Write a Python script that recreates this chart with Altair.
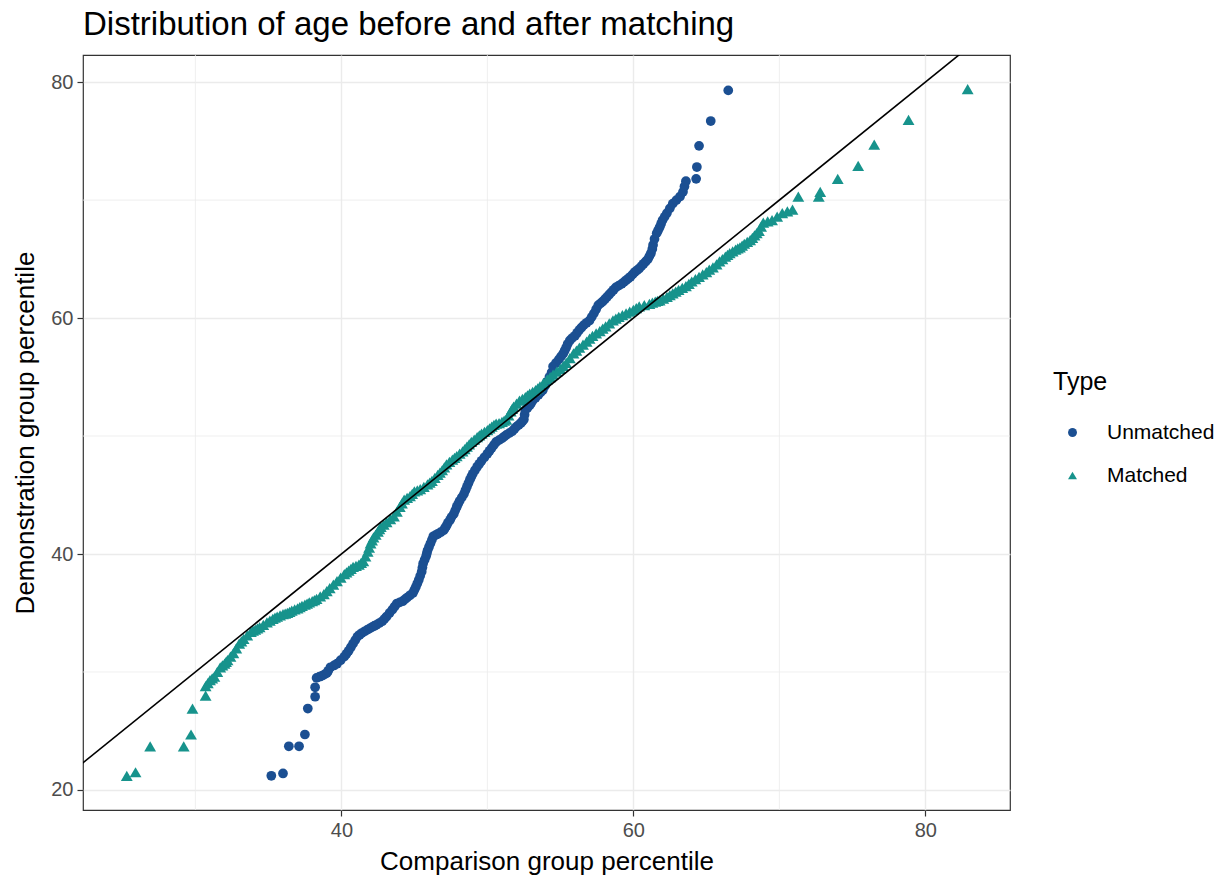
import altair as alt
import pandas as pd

# ---- data (comparison pct, demonstration pct) ----
unmatched_points = [
    (35.2, 21.2), (36.0, 21.4), (36.4, 23.7), (37.1, 23.7), (37.5, 24.7), (37.7, 26.9),
    (38.2, 27.9), (38.2, 28.7), (38.3, 29.5), (38.5, 29.6), (38.7, 29.7), (38.85, 29.8),
    (39.0, 29.9), (39.1, 30.1), (39.25, 30.4), (39.5, 30.55), (39.7, 30.7), (39.95, 31.0),
    (40.2, 31.3), (40.35, 31.55), (40.5, 31.8), (40.65, 32.1), (40.8, 32.4), (40.95, 32.7),
    (41.1, 33.0), (41.25, 33.15), (41.4, 33.3), (41.6, 33.45), (41.8, 33.6), (41.95, 33.7),
    (42.1, 33.8), (42.25, 33.9), (42.4, 34.0), (42.6, 34.15), (42.8, 34.3), (42.95, 34.5),
    (43.1, 34.7), (43.3, 35.0), (43.5, 35.3), (43.65, 35.55), (43.8, 35.8), (44.0, 35.9),
    (44.2, 36.0), (44.35, 36.15), (44.5, 36.3), (44.7, 36.5), (44.9, 36.7), (45.0, 36.95),
    (45.1, 37.2), (45.2, 37.5), (45.3, 37.8), (45.4, 38.15), (45.5, 38.5), (45.55, 38.85),
    (45.6, 39.2), (45.7, 39.5), (45.8, 39.8), (45.85, 40.05), (45.9, 40.3), (46.0, 40.6),
    (46.1, 40.9), (46.2, 41.2), (46.3, 41.5), (46.45, 41.6), (46.6, 41.7), (46.8, 41.85),
    (47.0, 42.0), (47.1, 42.2), (47.2, 42.4), (47.3, 42.65), (47.45, 42.9), (47.55, 43.15),
    (47.7, 43.4), (47.8, 43.7), (47.9, 44.0), (48.0, 44.25), (48.1, 44.5), (48.25, 44.8),
    (48.4, 45.1), (48.5, 45.4), (48.6, 45.7), (48.7, 46.0), (48.8, 46.3), (48.9, 46.55),
    (49.0, 46.8), (49.15, 47.1), (49.3, 47.4), (49.45, 47.65), (49.6, 47.9), (49.8, 48.2),
    (50.0, 48.5), (50.15, 48.75), (50.3, 49.0), (50.45, 49.25), (50.6, 49.5), (50.8, 49.65),
    (51.0, 49.8), (51.15, 49.95), (51.3, 50.1), (51.5, 50.25), (51.7, 50.4), (51.85, 50.6),
    (52.0, 50.8), (52.15, 50.95), (52.3, 51.1), (52.4, 51.25), (52.5, 51.4), (52.55, 51.8),
    (52.6, 52.2), (52.75, 52.4), (52.9, 52.6), (53.0, 52.8), (53.1, 53.0), (53.3, 53.25),
    (53.5, 53.5), (53.65, 53.7), (53.8, 53.9), (53.95, 54.25), (54.1, 54.6), (54.25, 55.0),
    (54.4, 55.4), (54.5, 55.9), (54.7, 56.2), (54.9, 56.5), (55.05, 56.75), (55.2, 57.0),
    (55.3, 57.25), (55.4, 57.5), (55.5, 57.8), (55.65, 58.1), (55.8, 58.3), (56.0, 58.5),
    (56.15, 58.75), (56.3, 59.0), (56.45, 59.2), (56.6, 59.4), (56.8, 59.6), (57.0, 59.8),
    (57.15, 60.1), (57.3, 60.4), (57.45, 60.75), (57.6, 61.1), (57.75, 61.25), (57.9, 61.4),
    (58.05, 61.6), (58.2, 61.8), (58.35, 62.0), (58.5, 62.2), (58.65, 62.4), (58.8, 62.6),
    (59.0, 62.75), (59.2, 62.9), (59.35, 63.05), (59.5, 63.2), (59.65, 63.35), (59.8, 63.5),
    (59.95, 63.7), (60.1, 63.9), (60.25, 64.05), (60.4, 64.2), (60.55, 64.4), (60.7, 64.6),
    (60.85, 64.8), (61.0, 65.0), (61.1, 65.25), (61.2, 65.5), (61.3, 65.85), (61.35, 66.2),
    (61.45, 66.7), (61.6, 67.2), (61.7, 67.45), (61.8, 67.7), (61.9, 68.0), (62.0, 68.3),
    (62.15, 68.6), (62.3, 68.9), (62.5, 69.3), (62.7, 69.7), (62.95, 70.0), (63.2, 70.3),
    (63.4, 70.7), (63.5, 71.15), (63.6, 71.6), (64.3, 71.8), (64.35, 72.8), (64.5, 74.6),
    (65.3, 76.7), (66.5, 79.3),
]

matched_points = [
    (25.3, 21.2), (25.9, 21.5), (26.9, 23.7), (29.2, 23.7), (29.7, 24.7), (29.8, 26.9),
    (30.7, 28.0), (30.7, 28.8), (30.85, 29.05), (31.0, 29.3), (31.15, 29.45), (31.3, 29.6),
    (31.5, 30.0), (31.7, 30.4), (31.85, 30.55), (32.0, 30.7), (32.1, 30.85), (32.2, 31.0),
    (32.4, 31.3), (32.6, 31.6), (32.8, 32.0), (33.0, 32.4), (33.15, 32.6), (33.3, 32.8),
    (33.55, 33.1), (33.8, 33.4), (33.95, 33.5), (34.1, 33.6), (34.25, 33.7), (34.4, 33.8),
    (34.65, 34.0), (34.9, 34.2), (35.1, 34.35), (35.3, 34.5), (35.45, 34.6), (35.6, 34.7),
    (35.8, 34.8), (36.0, 34.9), (36.15, 34.95), (36.3, 35.0), (36.45, 35.1), (36.6, 35.2),
    (36.8, 35.3), (37.0, 35.4), (37.15, 35.5), (37.3, 35.6), (37.5, 35.7), (37.65, 35.8),
    (37.8, 35.9), (38.0, 36.0), (38.15, 36.1), (38.3, 36.2), (38.55, 36.4), (38.8, 36.6),
    (39.0, 36.85), (39.2, 37.1), (39.45, 37.4), (39.7, 37.7), (39.95, 38.0), (40.2, 38.3),
    (40.35, 38.45), (40.5, 38.6), (40.65, 38.75), (40.8, 38.9), (41.0, 39.0), (41.2, 39.1),
    (41.35, 39.25), (41.5, 39.4), (41.65, 39.8), (41.8, 40.2), (41.9, 40.55), (42.0, 40.9),
    (42.1, 41.15), (42.2, 41.4), (42.35, 41.65), (42.5, 41.9), (42.6, 42.1), (42.7, 42.3),
    (42.9, 42.5), (43.1, 42.7), (43.35, 42.95), (43.6, 43.2), (43.8, 43.6), (44.0, 44.0),
    (44.15, 44.3), (44.3, 44.6), (44.5, 44.75), (44.7, 44.9), (44.85, 45.1), (45.0, 45.3),
    (45.2, 45.4), (45.4, 45.5), (45.65, 45.7), (45.9, 45.9), (46.05, 46.05), (46.2, 46.2),
    (46.4, 46.45), (46.6, 46.7), (46.75, 46.9), (46.9, 47.1), (47.05, 47.35), (47.2, 47.6),
    (47.4, 47.8), (47.6, 48.0), (47.75, 48.15), (47.9, 48.3), (48.1, 48.5), (48.3, 48.7),
    (48.45, 48.9), (48.6, 49.1), (48.75, 49.3), (48.9, 49.5), (49.1, 49.7), (49.3, 49.9),
    (49.45, 50.05), (49.6, 50.2), (49.8, 50.35), (50.0, 50.5), (50.15, 50.65), (50.3, 50.8),
    (50.45, 50.95), (50.6, 51.05), (50.8, 51.1), (51.0, 51.2), (51.15, 51.3), (51.3, 51.4),
    (51.45, 51.75), (51.6, 52.1), (51.7, 52.3), (51.8, 52.5), (52.0, 52.75), (52.2, 53.0),
    (52.4, 53.15), (52.6, 53.3), (52.75, 53.45), (52.9, 53.6), (53.1, 53.75), (53.3, 53.9),
    (53.45, 54.05), (53.6, 54.2), (53.85, 54.5), (54.1, 54.8), (54.3, 55.0), (54.5, 55.2),
    (54.75, 55.45), (55.0, 55.7), (55.2, 55.95), (55.4, 56.2), (55.65, 56.6), (55.9, 57.0),
    (56.1, 57.25), (56.3, 57.5), (56.55, 57.75), (56.8, 58.0), (57.0, 58.25), (57.2, 58.5),
    (57.45, 58.7), (57.7, 58.9), (57.9, 59.1), (58.1, 59.3), (58.35, 59.55), (58.6, 59.8),
    (58.8, 59.95), (59.0, 60.1), (59.25, 60.25), (59.5, 60.4), (59.75, 60.55), (60.0, 60.7),
    (60.2, 60.85), (60.4, 61.0), (60.75, 61.1), (61.1, 61.2), (61.3, 61.3), (61.5, 61.4),
    (61.65, 61.45), (61.8, 61.5), (62.05, 61.65), (62.3, 61.8), (62.5, 61.95), (62.7, 62.1),
    (62.9, 62.25), (63.1, 62.4), (63.35, 62.55), (63.6, 62.7), (63.8, 62.9), (64.0, 63.1),
    (64.25, 63.3), (64.5, 63.5), (64.75, 63.7), (65.0, 63.9), (65.2, 64.1), (65.45, 64.3),
    (65.7, 64.55), (65.9, 64.8), (66.1, 65.0), (66.3, 65.2), (66.45, 65.35), (66.6, 65.5),
    (66.8, 65.65), (67.0, 65.8), (67.15, 65.9), (67.3, 66.0), (67.45, 66.15), (67.6, 66.3),
    (67.8, 66.45), (68.0, 66.6), (68.15, 66.8), (68.3, 67.0), (68.45, 67.2), (68.6, 67.4),
    (68.75, 67.75), (68.9, 68.1), (69.2, 68.2), (69.5, 68.3), (69.85, 68.6), (70.2, 68.9),
    (70.55, 69.05), (70.9, 69.2), (71.3, 70.3), (72.7, 70.3), (72.8, 70.7), (74.0, 71.8),
    (75.4, 72.9), (76.5, 74.7), (78.85, 76.8), (82.9, 79.4),
]

types = ["Unmatched", "Matched"]
colors = ["#1B4F92", "#17938C"]
shapes = ["circle", "triangle-up"]
marker_sizes = [95, 140]

x_ticks = [40, 60, 80]
y_ticks = [20, 40, 60, 80]
x_minor = [30, 50, 70]
y_minor = [30, 50, 70]
x_domain = [22.3, 85.8]
y_domain = [18.3, 82.3]
ref_line = [0, 100]  # y = x reference line

df_un = pd.DataFrame(unmatched_points, columns=["x", "y"]).assign(Type=types[0])
df_ma = pd.DataFrame(matched_points, columns=["x", "y"]).assign(Type=types[1])

xs = alt.Scale(domain=x_domain, nice=False, zero=False)
ys = alt.Scale(domain=y_domain, nice=False, zero=False)
X_TITLE = "Comparison group percentile"
Y_TITLE = "Demonstration group percentile"
x_axis = alt.Axis(values=x_ticks, grid=True)
y_axis = alt.Axis(values=y_ticks, grid=True)
color_enc = alt.Color("Type:N", scale=alt.Scale(domain=types, range=colors), title="Type")
shape_enc = alt.Shape("Type:N", scale=alt.Scale(domain=types, range=shapes), title="Type")

grid_color = "#EBEBEB"

minor_x = alt.Chart(pd.DataFrame({"x": x_minor})).mark_rule(
    color=grid_color, strokeWidth=0.8
).encode(x=alt.X("x:Q", scale=xs, title=X_TITLE, axis=x_axis))

minor_y = alt.Chart(pd.DataFrame({"y": y_minor})).mark_rule(
    color=grid_color, strokeWidth=0.8
).encode(y=alt.Y("y:Q", scale=ys, title=Y_TITLE, axis=y_axis))


def point_layer(data, size):
    return alt.Chart(data).mark_point(filled=True, opacity=1, size=size).encode(
        x=alt.X("x:Q", scale=xs, title=X_TITLE, axis=x_axis),
        y=alt.Y("y:Q", scale=ys, title=Y_TITLE, axis=y_axis),
        color=color_enc,
        shape=shape_enc,
    )


pts_un = point_layer(df_un, marker_sizes[0])
pts_ma = point_layer(df_ma, marker_sizes[1])

line = alt.Chart(pd.DataFrame({"x": ref_line, "y": ref_line})).mark_line(
    color="black", strokeWidth=1.6, clip=True
).encode(
    x=alt.X("x:Q", scale=xs, title=X_TITLE, axis=x_axis),
    y=alt.Y("y:Q", scale=ys, title=Y_TITLE, axis=y_axis),
)

chart = alt.layer(minor_x, minor_y, pts_un, pts_ma, line).properties(
    width=927,
    height=755,
    autosize=alt.AutoSizeParams(type="none"),
    padding={"left": 83, "top": 55, "right": 217, "bottom": 66},
    title=alt.TitleParams(
        "Distribution of age before and after matching",
        anchor="start", frame="group", fontSize=33, font="Liberation Sans",
        fontWeight="normal", color="black", offset=13,
    ),
).configure_view(
    stroke="#333333", strokeWidth=1.2
).configure_axis(
    domain=False,
    gridColor=grid_color, gridWidth=1.4,
    tickColor="#333333", tickSize=6, tickWidth=1.2,
    labelFont="Liberation Sans", labelFontSize=20, labelColor="#4D4D4D",
    labelPadding=4,
    titleFont="Liberation Sans", titleFontSize=26, titleFontWeight="normal",
    titleColor="black",
).configure_axisX(
    titlePadding=8,
).configure_axisY(
    titlePadding=12,
).configure_legend(
    orient="none", legendX=970, legendY=315,
    titleFont="Liberation Sans", titleFontSize=25, titleFontWeight="normal",
    titleColor="black", titlePadding=27,
    labelFont="Liberation Sans", labelFontSize=21, labelColor="black",
    symbolSize=80, symbolOffset=9, labelOffset=24, rowPadding=21,
)

chart.save("out.html", embed_options={"renderer": "svg", "actions": False})
